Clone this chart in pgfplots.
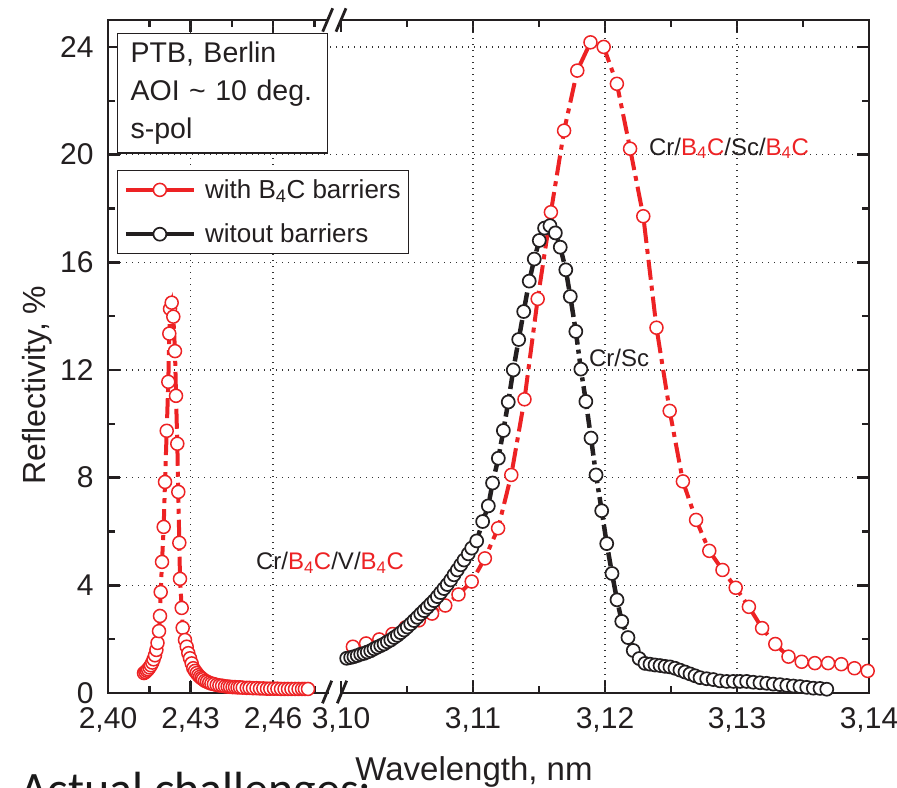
\documentclass[border=0pt]{standalone}
\usepackage{fontspec}
\setmainfont{Liberation Sans}
\newfontfamily\slidefont{Carlito}
\usepackage{pgfplots}
\usepackage{pgfplotstable}
\pgfplotsset{compat=1.18}
\definecolor{myred}{RGB}{237,34,36}
\definecolor{myblack}{RGB}{35,31,32}

\pgfplotstableread{
x y
2.41309 0.74
2.41360 0.78
2.41411 0.83
2.41458 0.88
2.41509 0.95
2.41560 1.03
2.41611 1.13
2.41658 1.25
2.41709 1.40
2.41760 1.60
2.41800 1.86
2.41855 2.30
2.41891 2.86
2.41916 3.75
2.41964 4.87
2.42025 6.17
2.42073 7.84
2.42135 9.74
2.42193 11.56
2.42229 13.35
2.42255 14.27
2.42316 14.50
2.42375 13.98
2.42436 12.70
2.42473 11.04
2.42520 9.26
2.42556 7.47
2.42593 5.58
2.42618 4.24
2.42680 3.16
2.42716 2.42
2.42800 1.97
2.42862 1.72
2.42920 1.48
2.42982 1.29
2.43044 1.10
2.43102 0.92
2.43164 0.82
2.43225 0.74
2.43284 0.66
2.43345 0.60
2.43400 0.55
2.43455 0.51
2.43527 0.45
2.43600 0.42
2.43680 0.38
2.43760 0.35
2.43850 0.33
2.43953 0.30
2.44050 0.28
2.44150 0.27
2.44255 0.25
2.44350 0.24
2.44436 0.23
2.44530 0.22
2.44618 0.22
2.44710 0.21
2.44800 0.21
2.44900 0.20
2.45044 0.19
2.45150 0.19
2.45273 0.18
2.45400 0.18
2.45527 0.17
2.45650 0.17
2.45782 0.16
2.45900 0.16
2.46036 0.16
2.46160 0.16
2.46291 0.15
2.46420 0.15
2.46545 0.15
2.46670 0.15
2.46800 0.15
2.46930 0.15
2.47055 0.15
2.47160 0.15
2.47273 0.15
}\redleft

\pgfplotstableread{
x y
3.1009 1.72
3.1019 1.84
3.1029 1.99
3.1039 2.19
3.1049 2.44
3.1059 2.70
3.1069 2.95
3.1079 3.25
3.1089 3.66
3.1099 4.14
3.1109 5.00
3.1119 6.12
3.1129 8.10
3.1139 10.91
3.1149 14.64
3.1159 17.86
3.1169 20.89
3.1179 23.12
3.1189 24.17
3.1199 24.00
3.1209 22.63
3.1219 20.22
3.1229 17.71
3.1239 13.57
3.1249 10.48
3.1259 7.86
3.1269 6.43
3.1279 5.28
3.1289 4.57
3.1299 3.91
3.1309 3.20
3.1319 2.41
3.1329 1.82
3.1339 1.35
3.1349 1.16
3.1359 1.11
3.1369 1.11
3.1379 1.07
3.1389 0.92
3.1399 0.82
}\redright

\pgfplotstableread{
x y
3.10043 1.29
3.10073 1.32
3.10098 1.35
3.10123 1.39
3.10149 1.44
3.10174 1.47
3.10199 1.52
3.10225 1.57
3.10250 1.64
3.10275 1.70
3.10301 1.76
3.10326 1.82
3.10351 1.90
3.10377 1.97
3.10402 2.06
3.10427 2.14
3.10452 2.24
3.10477 2.34
3.10502 2.45
3.10528 2.57
3.10553 2.69
3.10578 2.81
3.10604 2.94
3.10629 3.06
3.10654 3.18
3.10680 3.31
3.10705 3.43
3.10730 3.58
3.10755 3.73
3.10780 3.88
3.10805 4.03
3.10831 4.20
3.10856 4.39
3.10881 4.57
3.10907 4.76
3.10932 4.94
3.10964 5.17
3.10990 5.38
3.11028 5.65
3.11073 6.37
3.11116 6.95
3.11148 7.80
3.11192 8.72
3.11230 9.75
3.11267 10.81
3.11305 12.00
3.11346 13.13
3.11384 14.17
3.11426 15.30
3.11464 16.12
3.11502 16.81
3.11542 17.27
3.11583 17.36
3.11624 17.09
3.11661 16.56
3.11703 15.72
3.11737 14.73
3.11779 13.43
3.11817 12.03
3.11855 10.83
3.11894 9.47
3.11932 8.10
3.11975 6.77
3.12013 5.55
3.12053 4.44
3.12091 3.46
3.12127 2.66
3.12174 2.06
3.12214 1.58
3.12259 1.28
3.12303 1.10
3.12341 1.07
3.12379 1.04
3.12417 1.02
3.12455 0.99
3.12492 0.97
3.12530 0.92
3.12568 0.85
3.12606 0.78
3.12644 0.71
3.12682 0.64
3.12720 0.57
3.12770 0.53
3.12820 0.50
3.12871 0.45
3.12922 0.43
3.12972 0.43
3.13023 0.43
3.13073 0.43
3.13123 0.40
3.13174 0.38
3.13225 0.36
3.13275 0.33
3.13326 0.31
3.13377 0.28
3.13427 0.26
3.13477 0.24
3.13528 0.21
3.13578 0.18
3.13629 0.17
3.13680 0.14
}\black

\begin{document}
\begin{tikzpicture}
\useasboundingbox (0,0) rectangle (897bp,788bp);
\begin{axis}[
  at={(108bp,95bp)}, anchor=south west,
  scale only axis, width=761bp, height=673bp,
  xmin=0, xmax=761, ymin=0, ymax=25,
  clip mode=individual,
  axis line style={line width=2.8bp, myblack},
  xtick={0,82.5,165,233,365,497,629,761},
  xticklabels={{2,40},{2,43},{2,46},{3,10},{3,11},{3,12},{3,13},{3,14}},
  minor xtick={41.25,123.75,206.25,299,431,563,695},
  ytick={0,4,8,12,16,20,24},
  minor ytick={2,6,10,14,18,22},
  tick align=inside,
  major tick length=12bp, minor tick length=7bp,
  every tick/.style={myblack, line width=2.5bp},
  ymajorgrids,
  grid style={black!80, line width=1.3bp, dash pattern=on 1.3bp off 4.7bp},
  extra x ticks={82.5,165,365,497,629},
  extra x tick labels={},
  extra x tick style={grid=major, major tick length=0pt},
  tick label style={font=\fontsize{30bp}{34bp}\selectfont, text=myblack},
  xticklabel style={yshift=-11bp},
  yticklabel style={xshift=-11bp},
  /pgf/number format/assume math mode=true,
  legend style={at={(axis description cs:0.0118,0.777)}, anchor=north west,
    draw=myblack, line width=1.3bp, fill=white,
    font=\fontsize{26bp}{30bp}\selectfont, text=myblack,
    inner xsep=6bp, inner ysep=7bp, row sep=20bp,
    cells={anchor=west}},
  legend image code/.code={\draw[mark repeat=2,mark phase=2,#1,solid] plot coordinates {(0bp,0bp) (34bp,0bp) (68bp,0bp)};},
]
\addplot[myred, line width=4bp, dash pattern=on 20bp off 6bp on 5bp off 6bp,
  mark=*, mark size=6.5bp, mark options={solid, fill=white, draw=myred, line width=1.5bp}, forget plot]
  table[x expr={(\thisrow{x}-2.40)*2750}, y=y] {\redleft};
\addplot[myred, line width=4bp, dash pattern=on 20bp off 6bp on 5bp off 6bp,
  mark=*, mark size=6.5bp, mark options={solid, fill=white, draw=myred, line width=1.5bp}]
  table[x expr={233+(\thisrow{x}-3.10)*13200}, y=y] {\redright};
\addlegendentry{\hspace{7bp}with B\textsubscript{4}C barriers\hspace{6bp}}
\addplot[myblack, line width=4.5bp, dash pattern=on 14bp off 5bp on 4bp off 5bp,
  mark=*, mark size=6.5bp, mark options={solid, fill=white, draw=myblack, line width=1.7bp}]
  table[x expr={233+(\thisrow{x}-3.10)*13200}, y=y] {\black};
\addlegendentry{\hspace{7bp}witout barriers}

\node[draw=myblack, line width=1.3bp, fill=white, anchor=north west, align=left,
  text width=184bp, inner xsep=13bp, inner ysep=8.5bp,
  font=\fontsize{28.5bp}{38bp}\selectfont, text=myblack] at (axis cs:9,24.52)
  {PTB, Berlin\\AOI \textasciitilde{} 10 deg.\\s-pol};

\node[anchor=base, font=\fontsize{24bp}{28bp}\selectfont, text=myblack] at (axis cs:222,4.57)
  {Cr/\textcolor{myred}{B\textsubscript{4}C}/V/\textcolor{myred}{B\textsubscript{4}C}};
\node[anchor=base, font=\fontsize{24bp}{28bp}\selectfont, text=myblack] at (axis cs:511,12.11)
  {Cr/Sc};
\node[anchor=base, font=\fontsize{24bp}{28bp}\selectfont, text=myblack] at (axis cs:621,19.98)
  {Cr/\textcolor{myred}{B\textsubscript{4}C}/Sc/\textcolor{myred}{B\textsubscript{4}C}};
\end{axis}
% axis labels
\node[rotate=90, anchor=base, font=\fontsize{32bp}{36bp}\selectfont, text=myblack]
  at (45bp,403bp) {Reflectivity, \%};
\node[anchor=base, font=\fontsize{33bp}{36bp}\selectfont, text=myblack]
  at (474bp,8bp) {Wavelength, nm};
% axis break
\fill[white] (329bp,90bp) rectangle (340bp,100bp);
\fill[white] (329bp,763bp) rectangle (340bp,773bp);
\draw[myblack, line width=2.8bp] (322.5bp,84.7bp) -- (331.7bp,107.3bp);
\draw[myblack, line width=2.8bp] (337.3bp,84.7bp) -- (346.7bp,107.3bp);
\draw[myblack, line width=2.8bp] (322.7bp,756.3bp) -- (332.7bp,779.7bp);
\draw[myblack, line width=2.8bp] (336bp,756.3bp) -- (346bp,779.7bp);
% slide text below, cut off by the page edge
\node[anchor=base west, font=\slidefont\fontsize{48bp}{50bp}\selectfont, text=black!90, inner sep=0pt]
  at (20bp,-17bp) {Actual challenges:};
\end{tikzpicture}
\end{document}
